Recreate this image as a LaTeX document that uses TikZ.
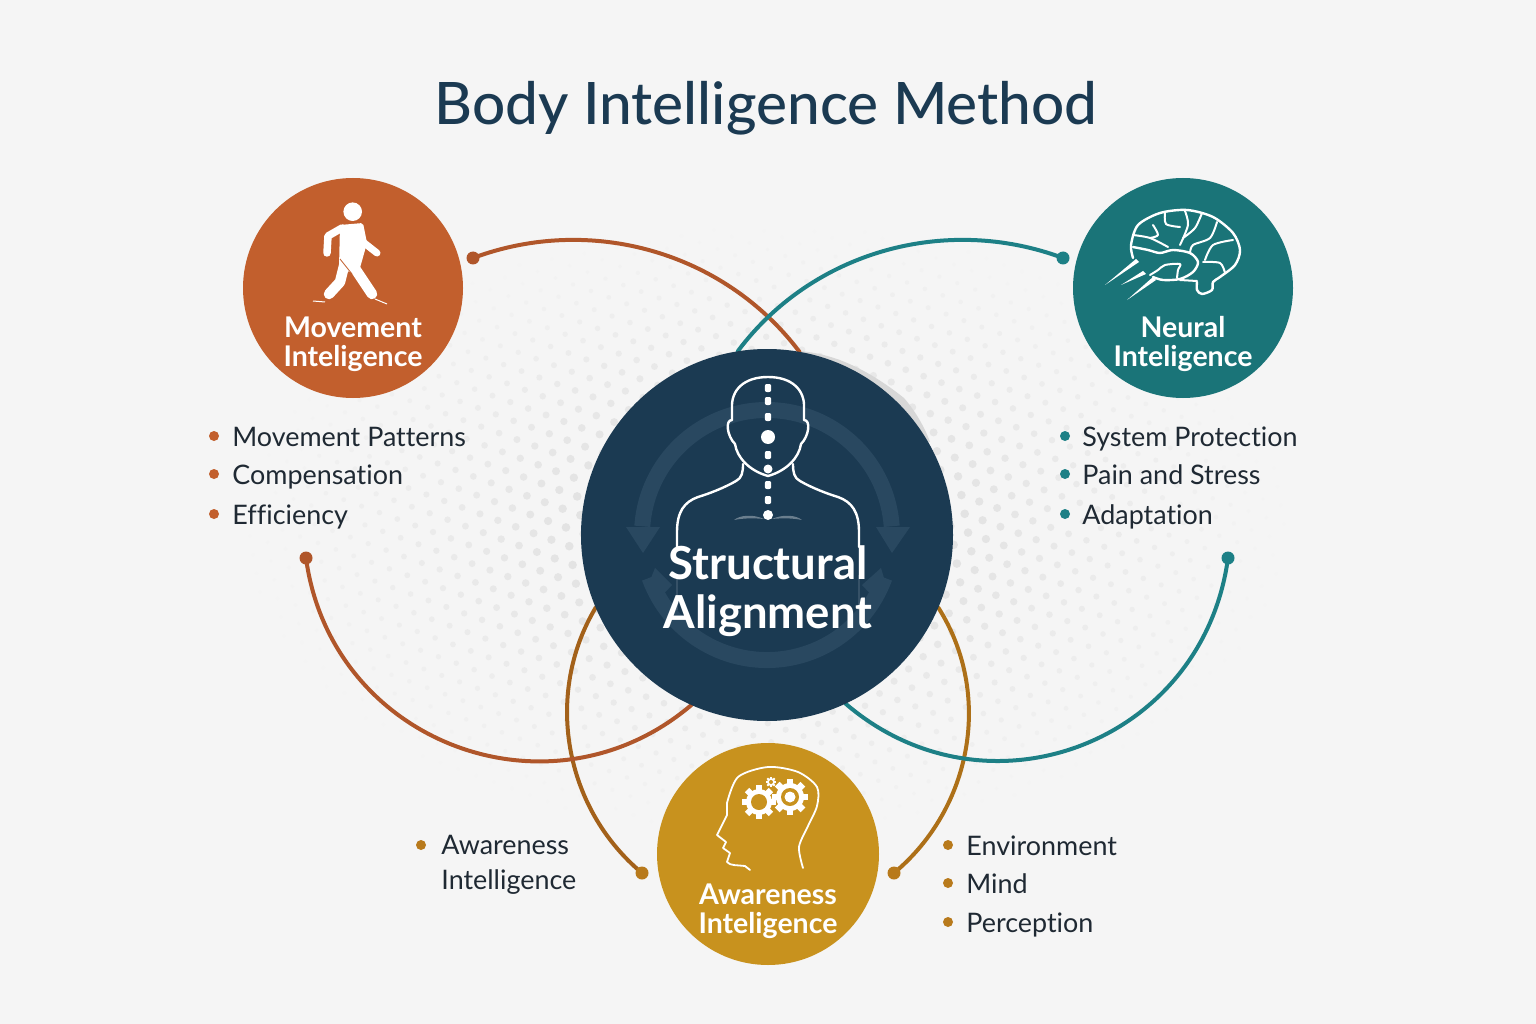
\documentclass[tikz,border=0pt]{standalone}
\usepackage{fontspec}
\setmainfont{Lato}[Ligatures=NoCommon]
\newfontfamily\titlefont{Lato Medium}[Ligatures=NoCommon]
\usetikzlibrary{positioning,backgrounds}

\definecolor{paper}{HTML}{F5F5F5}
\definecolor{halftone}{HTML}{DADADA}
\definecolor{navy}{HTML}{1B3A52}
\definecolor{ringblue}{HTML}{294860}
\definecolor{moveorange}{HTML}{C25F2D}
\definecolor{neuralteal}{HTML}{1A7478}
\definecolor{awaregold}{HTML}{C8921E}
\definecolor{arcorange}{HTML}{B0562A}
\definecolor{arcteal}{HTML}{1D8086}
\definecolor{arcbrown}{HTML}{A3611A}
\definecolor{arcgold}{HTML}{AD7018}
\definecolor{dotgold}{HTML}{B87A1C}
\definecolor{listink}{HTML}{1F2933}

\newcommand{\gearshape}[4]{%
	\fill[white] (#1,#2) circle[radius=#3pt];
	\foreach \a in {0,45,...,315}
		\fill[white,shift={(#1,#2)},rotate=\a] (-0.24*#3,0) rectangle (0.24*#3,1.3*#3);
	\fill[awaregold] (#1,#2) circle[radius=#4pt];
}

\tikzset{
	hubnode/.style={circle,inner sep=0pt,minimum size=220pt},
	circletext/.style={text=white,align=center,font=\bfseries\fontsize{28.5}{29}\selectfont},
	arcdot/.style={circle,inner sep=0pt,minimum size=13pt},
	linkarc/.style={line width=4pt,line cap=round},
	listdot/.style={circle,inner sep=0pt,minimum size=10pt},
	listitem/.style={text=listink,inner sep=0pt,node distance=13pt,align=left,text height=27pt,text depth=6pt,font=\fontsize{26.9}{35}\selectfont},
	iconline/.style={draw=white,line width=2.4pt,line cap=round,line join=round},
	thinline/.style={draw=white,line width=2pt,line cap=round,line join=round},
}

\begin{document}
\begin{tikzpicture}[x=1pt,y=-1pt]
	\useasboundingbox (0,0) rectangle (1536,1024);

	\begin{scope}[on background layer]
		\fill[paper] (0,0) rectangle (1536,1024);
		% halftone behind everything
		\foreach \i in {-30,...,30}
			\foreach \j in {-30,...,30} {
				\pgfmathsetmacro{\dotu}{\i*19+9.5*mod(\j+30,2)}
				\pgfmathsetmacro{\dotv}{\j*16.5}
				\pgfmathsetmacro{\dotx}{767+\dotu*0.94-\dotv*0.34}
				\pgfmathsetmacro{\doty}{530+\dotu*0.34+\dotv*0.94}
				\pgfmathsetmacro{\dotd}{sqrt(((\dotx-767)/530)^2+((\doty-530)/310)^2)}
				\ifdim\dotd pt<1pt
					\pgfmathsetmacro{\dotp}{min(100,105*(1-\dotd))}
					\pgfmathsetmacro{\dotr}{1.5+4.5*(1-\dotd)}
					\fill[halftone!\dotp!paper] (\dotx,\doty) circle[radius=\dotr pt];
				\fi
			}
		% soft edge at the upper right of the disc
		\fill[black!12!paper] (799,351) .. controls (840,354) and (875,375) .. (904,398) .. controls (916,412) and (925,428) .. (930,442) -- (860,430) -- cycle;
	\end{scope}

	\node[hubnode,minimum size=372pt,fill=navy]		(alignment)		at (767,535)	{};
	\node[hubnode,fill=moveorange]					(movement)		at (353,288)	{};
	\node[hubnode,fill=neuralteal]					(neural)		at (1183,288)	{};
	\node[hubnode,minimum size=222pt,fill=awaregold]	(awareness)		at (768,854)	{};

	\node[font=\titlefont\fontsize{58.5}{60}\selectfont,text=navy] (title) at (766,108) {Body Intelligence Method};

	% arc ends
	\node[arcdot,fill=arcorange]	(movetop)		at (473,258)	{};
	\node[arcdot,fill=arcorange]	(movelow)		at (306,558)	{};
	\node[arcdot,fill=arcteal]		(neuraltop)		at (1063,258)	{};
	\node[arcdot,fill=arcteal]		(neurallow)		at (1228,558)	{};
	\node[arcdot,fill=dotgold]		(awareleft)		at (642,873)	{};
	\node[arcdot,fill=dotgold]		(awareright)	at (894,873)	{};

	\begin{scope}[on background layer]
		\draw[linkarc,arcbrown] (awareleft.center) .. controls (564,808) and (544,694) .. (alignment.203);
		\draw[linkarc,arcgold] (awareright.center) .. controls (972,808) and (993,694) .. (alignment.-23);
		\draw[linkarc,arcorange] (movetop.center) .. controls (591,214) and (724,252) .. (alignment.80);
		\draw[linkarc,arcteal] (neuraltop.center) .. controls (945,214) and (812,252) .. (alignment.99);
		\draw[linkarc,arcorange] (movelow.center) .. controls (331,743) and (550,825) .. (alignment.246);
		\draw[linkarc,arcteal] (neurallow.center) .. controls (1203,743) and (987,825) .. (alignment.-65);
	\end{scope}

	% ring of arrows in the disc
	\draw[ringblue,line width=16pt] ([shift={(176:125pt)}]alignment.center) arc[start angle=176,end angle=4,radius=125pt];
	\draw[ringblue,line width=16pt] ([shift={(200:125pt)}]alignment.center) arc[start angle=200,end angle=340,radius=125pt];
	\fill[ringblue] (626,527) -- (660,527) -- (643,553) -- cycle;
	\fill[ringblue] (876,527) -- (910,527) -- (892,553) -- cycle;
	\fill[ringblue] (655,568) -- (647,588) -- (658,600) -- (672,585) -- cycle;
	\fill[ringblue] (881,568) -- (887,588) -- (876,600) -- (862,585) -- cycle;

	% person
	\foreach \s in {1,-1} {
		\begin{scope}[shift={(768,0)},xscale=\s]
			\draw[iconline] (0,377) .. controls (24,377) and (37,390) .. (36,408) -- (36,420)
				.. controls (43,420) and (41,436) .. (33,444) .. controls (31,458) and (18,471) .. (0,476);
			\draw[iconline] (25,464) .. controls (25,472) and (26,478) .. (32,481)
				.. controls (44,488) and (60,494) .. (70,497) .. controls (84,502) and (91,512) .. (91,532) -- (91,547);
			\draw[white,opacity=0.12,line width=1.5pt] (91,575) -- (91,610);
			\fill[white,opacity=0.35] (4,519) .. controls (15,514) and (28,515) .. (34,520) .. controls (24,518) and (14,518) .. (4,519) -- cycle;
		\end{scope}
	}
	\foreach \y in {388,401,417,455,485,500}
		\fill[white,rounded corners=2pt] (764.8,\y-4) rectangle (771.2,\y+4);
	\fill[white] (768,437) circle[radius=7pt];
	\fill[white] (768,469) circle[radius=4.5pt];
	\fill[white] (768,515) circle[radius=5pt];

	\node[text=white,align=center,font=\bfseries\fontsize{45.5}{49}\selectfont] (aligntext) at (768,591) {Structural\\Alignment};

	% walker
	\fill[white] (352.7,211.7) circle[radius=9.3pt];
	\fill[white,rounded corners=2pt] (340,225) -- (363,223) -- (367,243) -- (358,275) -- (339,268) -- cycle;
	\draw[white,line width=7.5pt,line cap=round,line join=round] (342,228) -- (328,236) -- (327,253);
	\draw[white,line width=7pt,line cap=round] (363,242) -- (377,253);
	\draw[white,line width=10.5pt,line cap=round] (352,264) -- (372,294);
	\draw[white,line width=10.5pt,line cap=round,line join=round] (345,262) -- (340,282) -- (329,294);
	\draw[moveorange,line width=0.8pt] (340,259) -- (352,274);
	\draw[white,line width=1pt] (313,301) -- (325,302);
	\draw[white,line width=1pt] (375,299) -- (387,304);

	% brain
	\draw[iconline] plot[smooth] coordinates {(1133,258) (1131,245) (1138,225) (1160,213) (1187,210) (1213,217) (1233,233) (1240,250) (1235,265) (1220,277) (1213,282) (1212,290) (1202,294) (1197,290) (1197,282)};
	\draw[iconline] plot[smooth] coordinates {(1133,247) (1148,250) (1160,253) (1173,250) (1190,253) (1198,262) (1193,272) (1180,279) (1163,280) (1153,277)};
	\draw[thinline] (1197,281) -- (1180,280);
	\draw[thinline] plot[smooth] coordinates {(1177,278) (1178,270) (1180,264) (1165,265) (1158,270) (1150,275)};
	\draw[thinline] plot[smooth] coordinates {(1165,212) (1166,224) (1180,227)};
	\draw[thinline] plot[smooth] coordinates {(1185,211) (1188,225) (1180,245)};
	\draw[thinline] plot[smooth] coordinates {(1202,213) (1195,228) (1183,238)};
	\draw[thinline] plot[smooth] coordinates {(1217,222) (1210,238) (1193,245) (1190,253)};
	\draw[thinline] plot[smooth] coordinates {(1233,240) (1213,245) (1205,260)};
	\draw[thinline] plot[smooth] coordinates {(1153,225) (1158,235) (1150,238)};
	\draw[thinline] plot[smooth] coordinates {(1133,235) (1150,238) (1168,247)};
	\draw[thinline] plot[smooth] coordinates {(1203,262) (1220,263) (1225,273)};
	\fill[white] (1136,259) -- (1139,262) -- (1105,285) -- cycle;
	\fill[white] (1143,271) -- (1146,274) -- (1121,285) -- cycle;
	\fill[white] (1153,277) -- (1156,280) -- (1127,300) -- cycle;

	% head with gears
	\draw[iconline,line width=1.8pt] plot[smooth] coordinates {(803,868) (799,847) (808,826) (817,806) (817,787) (798,772) (768,767) (738,777) (727,803)};
	\draw[iconline,line width=1.8pt] (727,803) -- (727,815) -- (717,835) -- (726,842) -- (723,848) -- (730,853) -- (727,862) .. controls (730,866) and (738,865) .. (745,866) -- (750,870);
	\gearshape{790}{797}{14}{9}
	\fill[white] (790,797) circle[radius=5.5pt];
	\gearshape{759}{802}{13}{8}
	\gearshape{771}{782}{4}{2}

	\node[circletext] (movelabel) at ([yshift=-56pt]movement.center) {Movement\\Inteligence};
	\node[circletext] (neurallabel) at ([yshift=-56pt]neural.center) {Neural\\Inteligence};
	\node[circletext] (awarelabel) at ([yshift=-57pt]awareness.center) {Awareness\\Inteligence};

	% lists
	\node[listdot,fill=moveorange]			(mv1)	at (214,436)	{};
	\node[listdot,fill=moveorange]			(mv2)	at (214,474)	{};
	\node[listdot,fill=moveorange]			(mv3)	at (214,514)	{};
	\node[listitem,right=of mv1]					{Movement Patterns};
	\node[listitem,right=of mv2]					{Compensation};
	\node[listitem,right=of mv3]					{Efficiency};

	\node[listdot,fill=arcteal]				(nr1)	at (1065,436)	{};
	\node[listdot,fill=arcteal]				(nr2)	at (1065,474)	{};
	\node[listdot,fill=arcteal]				(nr3)	at (1065,514)	{};
	\node[listitem,right=12pt of nr1]				{System Protection};
	\node[listitem,right=12pt of nr2]				{Pain and Stress};
	\node[listitem,right=12pt of nr3]				{Adaptation};

	\node[listdot,fill=dotgold]				(aw0)	at (421,845)	{};
	\node[listitem,right=15pt of aw0.east,anchor=north west,yshift=-17pt]	{Awareness\\Intelligence};

	\node[listdot,fill=dotgold]				(aw1)	at (948,845)	{};
	\node[listdot,fill=dotgold]				(aw2)	at (948,883)	{};
	\node[listdot,fill=dotgold]				(aw3)	at (948,922)	{};
	\node[listitem,right=of aw1]					{Environment};
	\node[listitem,right=of aw2]					{Mind};
	\node[listitem,right=of aw3]					{Perception};
\end{tikzpicture}
\end{document}
